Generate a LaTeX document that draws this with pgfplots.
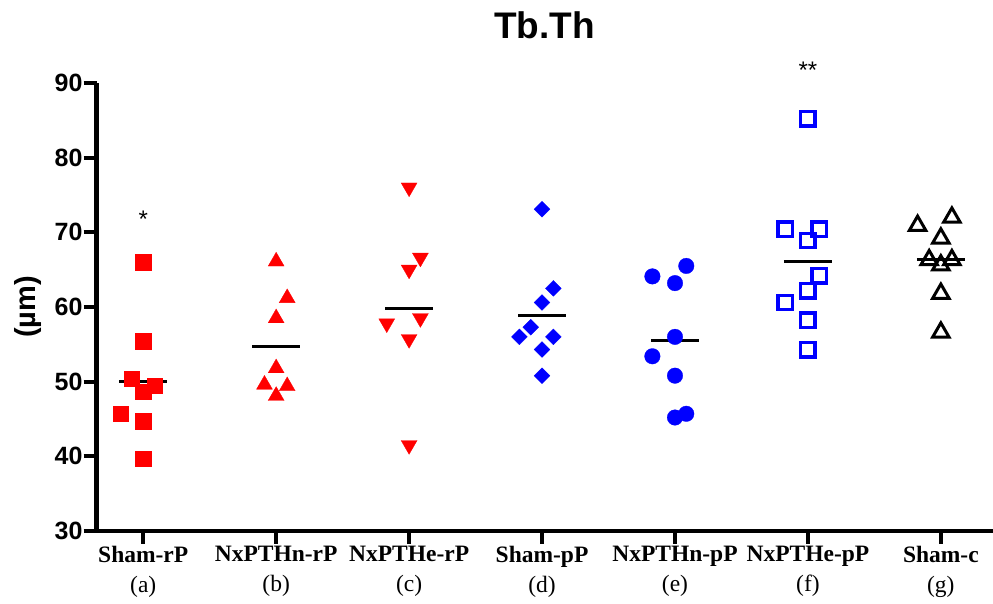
\documentclass[border=0pt]{standalone}
\usepackage{pgfplots}
\pgfplotsset{compat=1.18}
\usepackage{fontspec}
\setmainfont{Liberation Serif}
\setsansfont{Liberation Sans}
\definecolor{pr}{RGB}{255,0,0}
\definecolor{pb}{RGB}{0,0,255}
\begin{document}
\begin{tikzpicture}
\begin{axis}[
  scale only axis, width=896pt, height=448pt,
  xmin=-0.35, xmax=6.39, ymin=30, ymax=90,
  axis x line=bottom, axis y line=left,
  axis line style={-, line width=4.5pt, black},
  ytick={30,40,...,90}, xtick={0,...,6},
  xticklabels={
    {\textbf{Sham-rP}\\(a)},
    {\textbf{NxPTHn-rP}\\(b)},
    {\textbf{NxPTHe-rP}\\(c)},
    {\textbf{Sham-pP}\\(d)},
    {\textbf{NxPTHn-pP}\\(e)},
    {\textbf{NxPTHe-pP}\\(f)},
    {\textbf{Sham-c}\\(g)}},
  tick align=outside, major tick length=13pt,
  every tick/.style={black, line width=4pt},
  /pgf/number format/assume math mode=true,
  yticklabel style={font=\fontsize{25}{30}\sffamily\bfseries, inner sep=1pt},
  xticklabel style={font=\fontsize{23.5}{30}\selectfont, align=center, inner sep=2pt},
  clip=false,
]
% Sham-rP
\addplot[only marks, mark=square*, color=pr, mark size=7.7pt, mark options={line width=0.3pt}] coordinates {
 (0,66.0) (0,55.4) (-0.088,50.4) (0.088,49.5) (0,48.7) (-0.17,45.7) (0,44.7) (0,39.7)};
% NxPTHn-rP
\addplot[only marks, mark=triangle*, color=pr, mark size=9.2pt, mark options={line width=0.3pt}] coordinates {
 (1,66.1) (1.083,61.2) (1,58.5) (1,51.8) (0.912,49.6) (1.083,49.4) (1,48.1)};
% NxPTHe-rP
\addplot[only marks, mark=triangle*, color=pr, mark size=9.2pt, mark options={rotate=180, line width=0.3pt}] coordinates {
 (2,76.0) (2.085,66.6) (2,65.0) (1.832,57.8) (2.085,58.5) (2,55.7) (2,41.5)};
% Sham-pP
\addplot[only marks, mark=square*, color=pb, mark size=5.6pt, mark options={rotate=45, line width=0.3pt}] coordinates {
 (3,73.1) (3.085,62.5) (3,60.6) (2.915,57.3) (2.83,56.0) (3.085,56.0) (3,54.3) (3,50.8)};
% NxPTHn-pP
\addplot[only marks, mark=*, color=pb, mark size=7.8pt, mark options={line width=0.3pt}] coordinates {
 (4.085,65.5) (3.83,64.1) (4,63.2) (4,56.0) (3.83,53.4) (4,50.8) (4,45.2) (4.085,45.7)};
% NxPTHe-pP
\addplot[only marks, mark=square, color=pb, mark size=7.2pt, line width=3.5pt] coordinates {
 (5,85.2) (4.83,70.4) (5.085,70.4) (5,68.9) (5.085,64.2) (5,62.2) (4.83,60.6) (5,58.2) (5,54.3)};
% Sham-c
\addplot[only marks, mark=triangle, color=black, mark size=9.5pt, line width=3pt] coordinates {
 (5.825,70.9) (6.083,72.0) (6,69.2) (5.912,66.3) (6.083,66.3) (6,65.6) (6,61.8) (6,56.6)};
% means
\addplot[black, line width=3pt] coordinates {(-0.18,50.0) (0.18,50.0)};
\addplot[black, line width=3pt] coordinates {(0.82,54.7) (1.18,54.7)};
\addplot[black, line width=3pt] coordinates {(1.82,59.8) (2.18,59.8)};
\addplot[black, line width=3pt] coordinates {(2.82,58.8) (3.18,58.8)};
\addplot[black, line width=3pt] coordinates {(3.82,55.5) (4.18,55.5)};
\addplot[black, line width=3pt] coordinates {(4.82,66.05) (5.18,66.05)};
\addplot[black, line width=3pt] coordinates {(5.82,66.4) (6.18,66.4)};
% annotations
\node[font=\fontsize{24}{28}\sffamily] at (axis cs:0,71.7) {*};
\node[font=\fontsize{24}{28}\sffamily] at (axis cs:5,91.7) {**};
\node[font=\fontsize{37}{40}\sffamily\bfseries, anchor=base] at ([yshift=44pt]rel axis cs:0.5,1) {Tb.Th};
\node[font=\fontsize{29}{32}\sffamily\bfseries, rotate=90] at ([xshift=-69pt]rel axis cs:0,0.5) {(µm)};
\end{axis}
\pgfresetboundingbox
\path[use as bounding box] (-96.7pt,-73pt) rectangle (896.3pt,531pt);
\end{tikzpicture}
\end{document}
